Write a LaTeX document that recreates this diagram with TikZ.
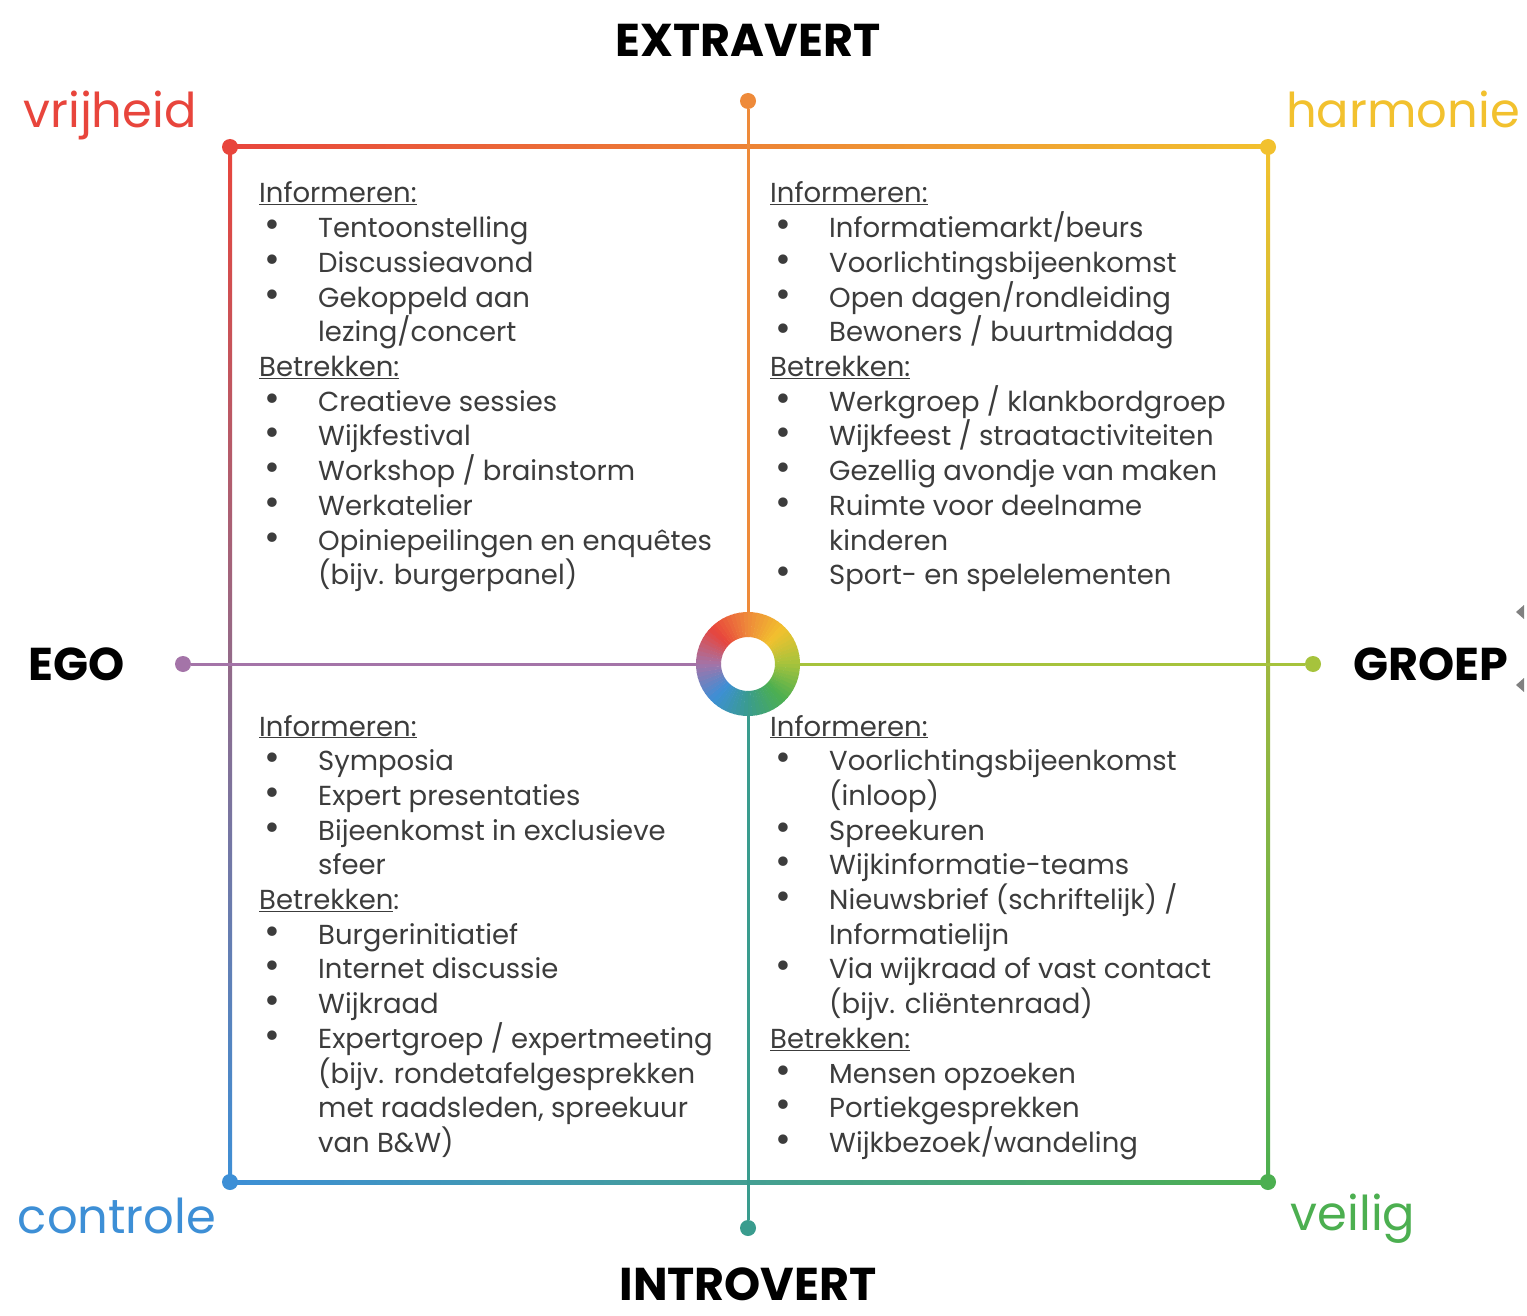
\documentclass[tikz,border=0pt]{standalone}
\usepackage{fontspec}
\setmainfont{Poppins}
\usetikzlibrary{positioning}

\definecolor{cred}{HTML}{E8453C}
\definecolor{corng}{HTML}{EE8A3A}
\definecolor{cyel}{HTML}{F2C12E}
\definecolor{cygr}{HTML}{A6C33C}
\definecolor{cgrn}{HTML}{4CAF50}
\definecolor{cteal}{HTML}{3A9C8E}
\definecolor{cblu}{HTML}{3D8FD6}
\definecolor{cprp}{HTML}{A474A8}
\definecolor{txtgrey}{HTML}{3C3C3C}

\newcommand{\hd}[1]{\underline{#1}}
\newcommand{\bl}{\hspace*{5pt}\makebox[54pt][l]{\scalebox{1.4}{\textbullet}}}
\newcommand{\cn}{\hspace*{59pt}}

\tikzset{
  body/.style={anchor=base west, inner sep=0pt, text=txtgrey, font=\fontsize{27.5}{33}\selectfont},
  pole/.style={inner sep=0pt, font=\fontsize{46}{54}\selectfont\bfseries},
  value/.style={anchor=base, inner sep=0pt, font=\fontsize{48}{56}\selectfont},
  dot/.style={circle, fill, inner sep=0pt, minimum size=16pt},
}

\begin{document}
\begin{tikzpicture}[x=1pt, y=-1pt]
\useasboundingbox[fill=white] (0,0) rectangle (1527,1316);

%corner dots and axis ends
\coordinate (vr) at (230,147);
\coordinate (ha) at (1268,147);
\coordinate (co) at (230,1182);
\coordinate (ve) at (1268,1182);
\node[circle, minimum size=104pt, inner sep=0pt] (ring) at (748,664) {};

%square
\shade[left color=cred, middle color=corng, right color=cyel] ([yshift=2pt]vr) rectangle ([yshift=-2pt]ha);
\shade[left color=cblu, middle color=cteal, right color=cgrn] ([yshift=2pt]co) rectangle ([yshift=-2pt]ve);
\shade[top color=cred, middle color=cprp, bottom color=cblu] ([xshift=-2pt]vr) rectangle ([xshift=2pt]co);
\shade[top color=cyel, middle color=cygr, bottom color=cgrn] ([xshift=-2pt]ha) rectangle ([xshift=2pt]ve);

%axes
\node[dot, corng] (top) at (748,101) {};
\node[dot, cteal] (bot) at (748,1228) {};
\node[dot, cprp] (lft) at (183,664) {};
\node[dot, cygr] (rgt) at (1313,664) {};
\draw[corng, line width=3pt] (top) -- (ring);
\draw[cteal, line width=3pt] (bot) -- (ring);
\draw[cprp, line width=3pt] (lft) -- (ring);
\draw[cygr, line width=3pt] (rgt) -- (ring);

\node[dot, cred] at (vr) {};
\node[dot, cyel] at (ha) {};
\node[dot, cblu] at (co) {};
\node[dot, cgrn] at (ve) {};

%colour ring
\foreach \a/\ca/\cb in {135/cred/corng, 90/corng/cyel, 45/cyel/cygr, 0/cygr/cgrn, -45/cgrn/cteal, -90/cteal/cblu, -135/cblu/cprp, -180/cprp/cred}
  \foreach \k in {0,...,8}{
    \pgfmathtruncatemacro\p{100-(\k+0.5)*100/9}
    \fill[\ca!\p!\cb] ([shift={(\a-5*\k:52pt)}]ring.center) arc[start angle=\a-5*\k, end angle=\a-5*\k-5.6, radius=52pt]
      -- ([shift={(\a-5*\k-5.6:27pt)}]ring.center) arc[start angle=\a-5*\k-5.6, end angle=\a-5*\k, radius=27pt] -- cycle;
  }

%poles
\node[pole] (extra) at (748,40) {EXTRAVERT};
\node[pole, anchor=base] (intro) at (748,1300) {INTROVERT};
\node[pole] (ego) at (77,664) {EGO};
\node[pole] (groep) at (1431,664) {GROEP};
\fill[gray] (1516,612) -- (1524,605) -- (1524,619) -- cycle;
\fill[gray] (1516,685) -- (1524,678) -- (1524,692) -- cycle;

%values
\node[value, cred] (vrij) at (110,128) {vrijheid};
\node[value, cyel] (harm) at (1403,128) {harmonie};
\node[value, cblu] (cont) at (117,1233) {controle};
\node[value, cgrn] (veil) at (1353,1230) {veilig};

%quadrant texts
\foreach \t [count=\i from 0] in {\hd{Informeren:}, \bl Tentoonstelling, \bl Discussieavond, \bl Gekoppeld aan, \cn lezing/concert,
  \hd{Betrekken:}, \bl Creatieve sessies, \bl Wijkfestival, \bl Workshop / brainstorm, \bl Werkatelier,
  \bl Opiniepeilingen en enquêtes, \cn (bijv. burgerpanel)}
  \node[body] at (259,203+34.7*\i) {\t};

\foreach \t [count=\i from 0] in {\hd{Informeren:}, \bl Informatiemarkt/beurs, \bl Voorlichtingsbijeenkomst, \bl Open dagen/rondleiding, \bl Bewoners / buurtmiddag,
  \hd{Betrekken:}, \bl Werkgroep / klankbordgroep, \bl Wijkfeest / straatactiviteiten, \bl Gezellig avondje van maken,
  \bl Ruimte voor deelname, \cn kinderen, \bl Sport- en spelelementen}
  \node[body] at (770,203+34.7*\i) {\t};

\foreach \t [count=\i from 0] in {\hd{Informeren:}, \bl Symposia, \bl Expert presentaties, \bl Bijeenkomst in exclusieve, \cn sfeer,
  \hd{Betrekken}:, \bl Burgerinitiatief, \bl Internet discussie, \bl Wijkraad, \bl Expertgroep / expertmeeting,
  \cn (bijv. rondetafelgesprekken, {\cn met raadsleden, spreekuur}, \cn van B\&W)}
  \node[body] at (259,736+34.7*\i) {\t};

\foreach \t [count=\i from 0] in {\hd{Informeren:}, \bl Voorlichtingsbijeenkomst, \cn (inloop), \bl Spreekuren, \bl Wijkinformatie-teams,
  \bl Nieuwsbrief (schriftelijk) /, \cn Informatielijn, \bl Via wijkraad of vast contact, \cn (bijv. cliëntenraad),
  \hd{Betrekken:}, \bl Mensen opzoeken, \bl Portiekgesprekken, \bl Wijkbezoek/wandeling}
  \node[body] at (770,736+34.7*\i) {\t};

\end{tikzpicture}
\end{document}
